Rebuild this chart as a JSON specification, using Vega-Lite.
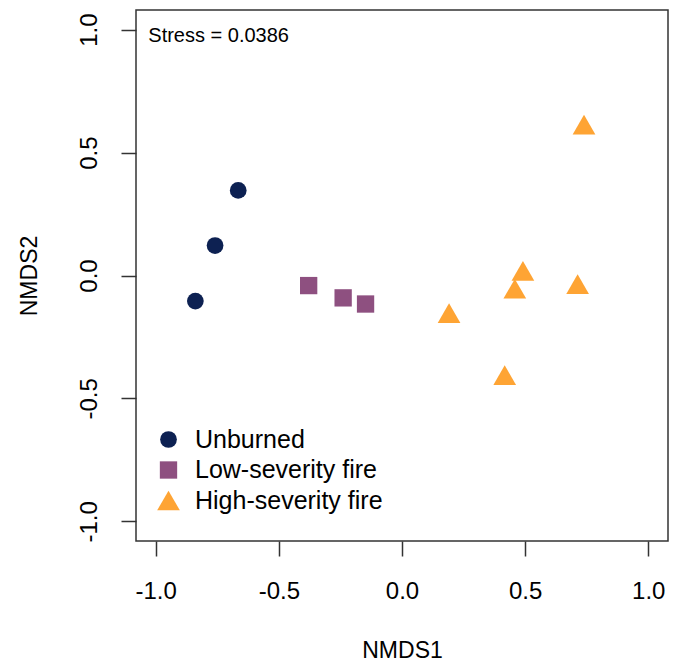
{
  "$schema": "https://vega.github.io/schema/vega-lite/v6.json",
  "width": 532,
  "height": 531,
  "autosize": {"type": "none"},
  "padding": {"left": 136, "top": 10, "right": 13, "bottom": 122},
  "background": "white",
  "config": {
    "font": "Liberation Sans",
    "view": {"stroke": "#333333", "strokeWidth": 1.5},
    "axis": {"grid": false, "domain": false, "tickColor": "#333333", "tickWidth": 1.5, "tickSize": 15, "labelColor": "black", "titleColor": "black", "labelFontSize": 24, "titleFontSize": 23, "titleFontWeight": "normal", "labelFont": "Liberation Sans", "titleFont": "Liberation Sans"}
  },
  "layer": [
    {
      "data": {"values": [
        {"group": "Unburned", "NMDS1": -0.665, "NMDS2": 0.346},
        {"group": "Unburned", "NMDS1": -0.759, "NMDS2": 0.122},
        {"group": "Unburned", "NMDS1": -0.839, "NMDS2": -0.104},
        {"group": "Low-severity fire", "NMDS1": -0.379, "NMDS2": -0.041},
        {"group": "Low-severity fire", "NMDS1": -0.239, "NMDS2": -0.091},
        {"group": "Low-severity fire", "NMDS1": -0.148, "NMDS2": -0.116},
        {"group": "High-severity fire", "NMDS1": 0.739, "NMDS2": 0.614},
        {"group": "High-severity fire", "NMDS1": 0.491, "NMDS2": 0.019},
        {"group": "High-severity fire", "NMDS1": 0.458, "NMDS2": -0.054},
        {"group": "High-severity fire", "NMDS1": 0.713, "NMDS2": -0.035},
        {"group": "High-severity fire", "NMDS1": 0.191, "NMDS2": -0.153},
        {"group": "High-severity fire", "NMDS1": 0.417, "NMDS2": -0.405}
      ]},
      "mark": {"type": "point", "filled": true, "opacity": 1, "strokeWidth": 0},
      "encoding": {
        "x": {"field": "NMDS1", "type": "quantitative", "scale": {"domain": [-1.08, 1.08], "nice": false, "zero": false},
          "axis": {"values": [-1, -0.5, 0, 0.5, 1], "format": ".1f", "labelExpr": "replace(datum.label, '\u2212', '-')", "labelPadding": 23, "title": "NMDS1", "titleBaseline": "alphabetic", "titleX": 266, "titleY": 116, "labelFlush": false}},
        "y": {"field": "NMDS2", "type": "quantitative", "scale": {"domain": [-1.08, 1.08], "nice": false, "zero": false},
          "axis": {"values": [-1, -0.5, 0, 0.5, 1], "format": ".1f", "labelExpr": "replace(datum.label, '\u2212', '-')", "labelAngle": -90, "labelAlign": "center", "labelBaseline": "alphabetic", "labelPadding": 25, "title": "NMDS2", "titleAngle": -90, "titleBaseline": "alphabetic", "titleX": -100, "titleY": 265.5, "labelFlush": false}},
        "color": {"field": "group", "type": "nominal", "sort": ["Unburned", "Low-severity fire", "High-severity fire"],
          "scale": {"domain": ["Unburned", "Low-severity fire", "High-severity fire"], "range": ["#0d2152", "#8e5080", "#fea434"]},
          "legend": {"title": null, "orient": "none", "legendX": 20, "legendY": 417, "labelFontSize": 25, "labelLimit": 0, "labelColor": "black", "labelFont": "Liberation Sans", "symbolSize": 150, "rowPadding": 4.5, "labelOffset": 14, "padding": 0,
            "encode": {"symbols": {
              "update": {"size": {"signal": "datum.value === 'Unburned' ? 115 : datum.value === 'Low-severity fire' ? 144 : 246"}, "strokeWidth": {"value": 0}, "opacity": {"value": 1}}}}}},
        "shape": {"field": "group", "type": "nominal", "sort": ["Unburned", "Low-severity fire", "High-severity fire"],
          "scale": {"domain": ["Unburned", "Low-severity fire", "High-severity fire"], "range": ["circle", "square", "triangle-up"]}},
        "size": {"field": "group", "type": "ordinal",
          "scale": {"type": "ordinal", "domain": ["Unburned", "Low-severity fire", "High-severity fire"], "range": [280, 300, 515]}, "legend": null}
      }
    },
    {
      "data": {"values": [{"label": "Stress = 0.0386", "x": -1.03, "y": 0.95}]},
      "mark": {"type": "text", "align": "left", "baseline": "alphabetic", "fontSize": 20, "color": "black", "font": "Liberation Sans"},
      "encoding": {
        "x": {"field": "x", "type": "quantitative"},
        "y": {"field": "y", "type": "quantitative"},
        "text": {"field": "label"}
      }
    }
  ]
}
